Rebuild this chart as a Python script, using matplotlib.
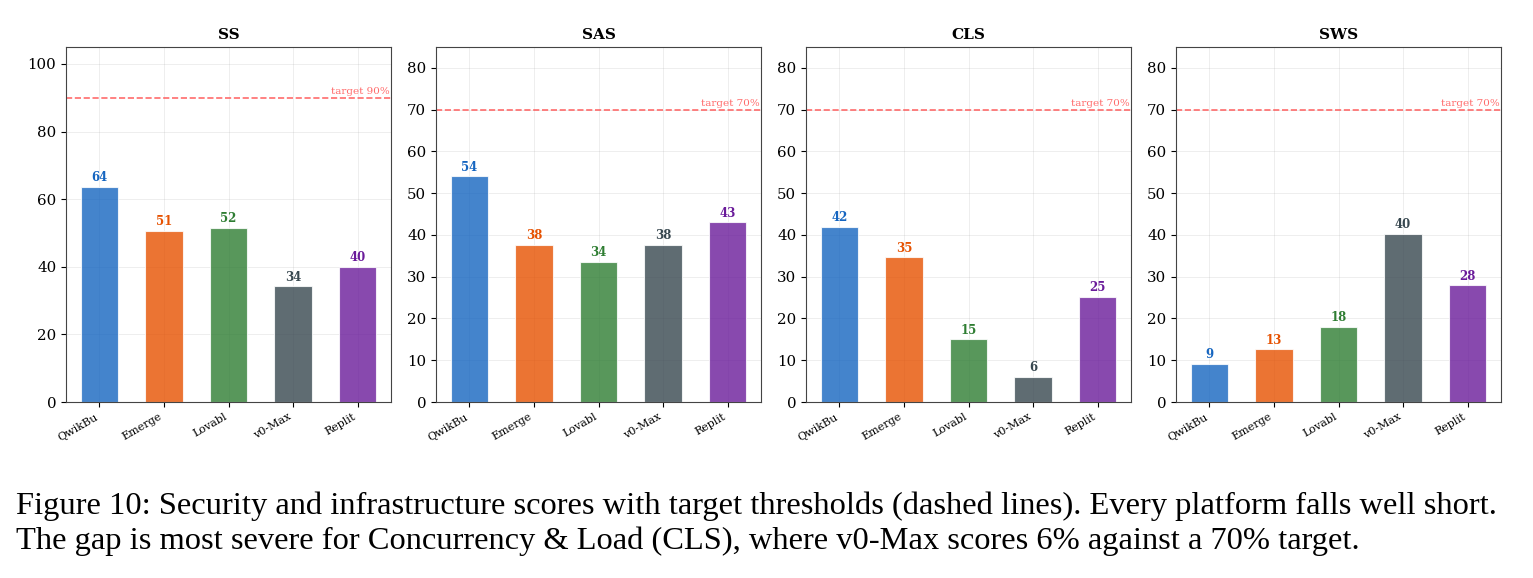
import numpy as np
import matplotlib.pyplot as plt

# data
platforms = ['QwikBu', 'Emerge', 'Lovabl', 'v0-Max', 'Replit']
metrics = ['SS', 'SAS', 'CLS', 'SWS']
ss_scores = [63.6, 50.6, 51.6, 34.2, 39.9]
sas_scores = [54.0, 37.6, 33.6, 37.6, 43.0]
cls_scores = [42.0, 34.6, 15.0, 6.0, 25.2]
sws_scores = [9.2, 12.6, 17.9, 40.2, 27.9]
targets = [90, 70, 70, 70]
ylims = [105, 85, 85, 85]

colors = ['#1565C0', '#E65100', '#2E7D32', '#37474F', '#6A1B9A']

caption_lines = [
    "Figure 10: Security and infrastructure scores with target thresholds (dashed lines). "
    "Every platform falls well short.",
    "The gap is most severe for Concurrency & Load (CLS), where v0-Max scores 6% against a 70% target.",
]

plt.rcParams['font.family'] = 'DejaVu Serif'

fig = plt.figure(figsize=(15.33, 5.78), dpi=100)

all_scores = [ss_scores, sas_scores, cls_scores, sws_scores]
x = np.arange(len(platforms))

for i, (name, vals, tgt, ytop) in enumerate(zip(metrics, all_scores, targets, ylims)):
    left = (66 + 370 * i) / 1533
    ax = fig.add_axes([left, 1 - 402 / 578, 325 / 1533, 355 / 578])
    bars = ax.bar(x, vals, width=0.58, color=colors, alpha=0.8,
                  edgecolor='white', linewidth=0.8, zorder=2)
    for b, v, c in zip(bars, vals, colors):
        ax.text(b.get_x() + b.get_width() / 2, v + ytop * 0.008, f'{v:.0f}',
                ha='center', va='bottom', fontsize=8.5, fontweight='bold', color=c)
    ax.axhline(tgt, color='#FF5252', linestyle='--', linewidth=1.2, alpha=0.85, zorder=1)
    ax.text(0.995, tgt + ytop * 0.005, f'target {tgt}%', transform=ax.get_yaxis_transform(),
            ha='right', va='bottom', fontsize=7.5, color='#FF5252', alpha=0.85)
    ax.set_ylim(0, ytop)
    if ytop > 100:
        ax.set_yticks(np.arange(0, 101, 20))
    else:
        ax.set_yticks(np.arange(0, 81, 10))
    ax.set_xticks(x)
    ax.set_xticklabels(platforms, rotation=30, ha='right', fontsize=8)
    ax.tick_params(axis='y', labelsize=10.8)
    ax.set_title(name, fontsize=11, fontweight='bold')
    ax.grid(True, alpha=0.25, linewidth=0.6, zorder=0)
    ax.set_axisbelow(True)
    for s in ax.spines.values():
        s.set_color('#444444')

# caption under the panels, one text per line
for k, line in enumerate(caption_lines):
    fig.text(16 / 1533, 1 - (514 + 35 * k) / 578, line, family='Liberation Serif',
             fontsize=23.4, ha='left', va='baseline')

fig.savefig('out.png', dpi=100)
